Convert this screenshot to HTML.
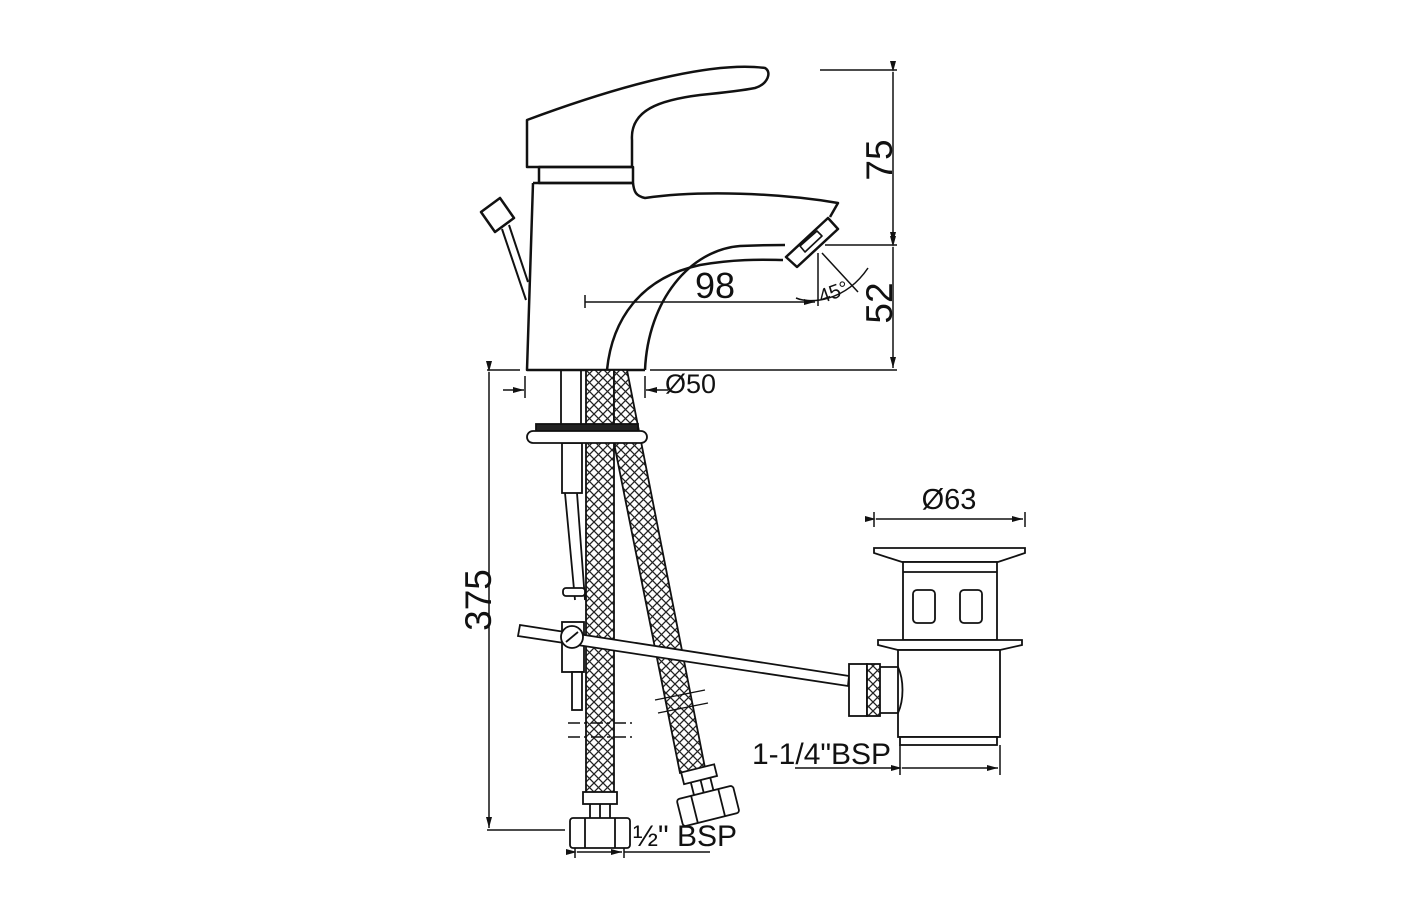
<!DOCTYPE html>
<html><head><style>
html,body{margin:0;padding:0;background:#fff;}
svg{display:block;}
text{font-family:"Liberation Sans",sans-serif;fill:#111;}
</style></head><body>
<svg width="1420" height="900" viewBox="0 0 1420 900" xmlns="http://www.w3.org/2000/svg">
<defs>
<pattern id="hx" width="9" height="9" patternUnits="userSpaceOnUse">
<rect width="9" height="9" fill="#fff"/>
<path d="M0,0L9,9M9,0L0,9" stroke="#222" stroke-width="1.3"/>
</pattern>
<marker id="ar" markerWidth="12" markerHeight="8" refX="11" refY="4" orient="auto" markerUnits="userSpaceOnUse">
<path d="M0,1L11,4L0,7z" fill="#111"/>
</marker>
</defs>
<g fill="none" stroke="#111" stroke-width="2.5" stroke-linejoin="round">
<path d="M527,120 L527,167 L632,167 L632,140 C630,110 660,100 700,95 C730,92 745,90 755,88 C768,84 772,72 765,68 C720,62 640,78 527,120 Z"/>
<rect x="539" y="167" width="94" height="16"/>
<path d="M533,183 L527,370 L645,370"/>
<path d="M633,183 C634,192 636,196 645,198 C700,190 780,193 838,203 L830,217"/>
<path d="M533,183 L633,183"/>
<path d="M607,370 C612,320 640,278 700,265 C740,258 770,260 783,260"/>
<path d="M645,370 C648,300 690,250 740,246 C760,245 775,245 785,245"/>
<path d="M786,257 L828,218 L838,229 L797,267 Z"/>
<path d="M800,246 L817,231 L822,236 L805,252 Z" stroke-width="1.6"/>
<path d="M481,212 L500,198 L514,218 L495,232 Z"/>
<path d="M502,229 L526,300 M509,225 L528,282" stroke-width="2"/>
</g>
<g stroke="#111" stroke-width="1.5" fill="none">
<path d="M820,70 L897,70 M825,245 L897,245 M650,370 L897,370"/>
<path d="M893,72 L893,243" marker-start="url(#ar)" marker-end="url(#ar)"/>
<path d="M893,247 L893,368" marker-start="url(#ar)" marker-end="url(#ar)"/>
<path d="M585,295 L585,308"/>
<path d="M585,302 L815,302" marker-end="url(#ar)"/>
<path d="M818,253 L818,306 M822,253 L858,292"/>
<path d="M796,298 C810,304 845,302 868,268" />
<path d="M487,370 L520,370 M487,830 L565,830"/>
<path d="M489,372 L489,828" marker-start="url(#ar)" marker-end="url(#ar)"/>
<path d="M525,376 L525,398 M645,376 L645,398"/>
<path d="M503,390 L524,390" marker-end="url(#ar)"/>
<path d="M668,390 L646,390" marker-end="url(#ar)"/>
<path d="M874,512 L874,527 M1025,512 L1025,527"/>
<path d="M876,519 L1023,519" marker-start="url(#ar)" marker-end="url(#ar)"/>
<path d="M900,745 L900,775 M1000,745 L1000,775 M795,768 L900,768"/>
<path d="M902,768 L998,768" marker-start="url(#ar)" marker-end="url(#ar)"/>
<path d="M575,835 L575,858 M624,835 L624,858 M624,852 L710,852"/>
<path d="M577,852 L622,852" marker-start="url(#ar)" marker-end="url(#ar)"/>
</g>
<g stroke="#111" stroke-width="1.8">
<rect x="586" y="370" width="28" height="424" fill="url(#hx)"/>
<path d="M614,370 L627,370 L705,768 L680,773 L614,443 Z" fill="url(#hx)"/>
</g>
<g fill="none" stroke="#111" stroke-width="1.8">
<path d="M561,370 L561,443 M581,370 L581,443"/>
<rect x="562" y="443" width="20" height="50" fill="#fff"/>
<path d="M565,493 L575,600 M577,493 L585,600"/>
<rect x="563" y="588" width="22" height="8" rx="3" fill="#fff"/>
<rect x="562" y="622" width="22" height="50" fill="#fff"/>
<rect x="572" y="672" width="10" height="38" fill="#fff"/>
<rect x="536" y="424" width="102" height="7" fill="#222"/>
<rect x="527" y="431" width="120" height="12" rx="6" fill="#fff"/>
<path d="M568,723 L632,723 M568,737 L632,737" stroke-dasharray="12,4,3,4" stroke-width="1.4"/>
<path d="M655,700 L705,690 M658,713 L708,703" stroke-width="1.4"/>
<path d="M520,625 L849,676 L848,686 L518,636 Z" fill="#fff"/>
<circle cx="572" cy="637" r="11" fill="#fff"/>
<path d="M566,642 L578,632"/>
<rect x="583" y="792" width="34" height="12" fill="#fff"/>
<path d="M590,804 L590,820 M600,804 L600,820 M610,804 L610,820"/>
<rect x="570" y="818" width="60" height="30" rx="3" fill="#fff"/>
<path d="M585,818 L585,848 M615,818 L615,848"/>
<g transform="rotate(-14 702 790)">
<rect x="686" y="768" width="34" height="12" fill="#fff"/>
<path d="M693,780 L693,795 M703,780 L703,795 M713,780 L713,795"/>
<rect x="675" y="793" width="58" height="28" rx="3" fill="#fff"/>
<path d="M690,793 L690,821 M718,793 L718,821"/>
</g>
<path d="M874,548 L1025,548 L1025,553 L998,562 L902,562 L874,553 Z" fill="#fff"/>
<rect x="903" y="562" width="94" height="78" fill="#fff"/>
<path d="M903,572 L997,572"/>
<rect x="913" y="590" width="22" height="33" rx="4"/>
<rect x="960" y="590" width="22" height="33" rx="4"/>
<path d="M878,640 L1022,640 L1022,645 L1000,650 L898,650 L878,645 Z" fill="#fff"/>
<rect x="898" y="650" width="102" height="87" fill="#fff"/>
<rect x="900" y="737" width="97" height="8" fill="#fff"/>
<path d="M880,667 L898,667 C904,680 904,700 898,713 L880,713"/>
<rect x="849" y="664" width="18" height="52" fill="#fff"/>
<rect x="867" y="664" width="13" height="52" fill="url(#hx)"/>
</g>
<text font-size="37" transform="translate(892,160) rotate(-90)" text-anchor="middle">75</text>
<text font-size="37" transform="translate(892,303) rotate(-90)" text-anchor="middle">52</text>
<text font-size="37" transform="translate(491,600) rotate(-90)" text-anchor="middle">375</text>
<text x="715" y="298" font-size="36" text-anchor="middle">98</text>
<text x="818" y="300" font-size="20" transform="rotate(-20 830 292)">45°</text>
<text x="665" y="393" font-size="27">Ø50</text>
<text x="949" y="509" font-size="29" text-anchor="middle">Ø63</text>
<text x="752" y="764" font-size="30">1-1/4"BSP</text>
<text x="633" y="846" font-size="30">½" BSP</text>
</svg>
</body></html>
